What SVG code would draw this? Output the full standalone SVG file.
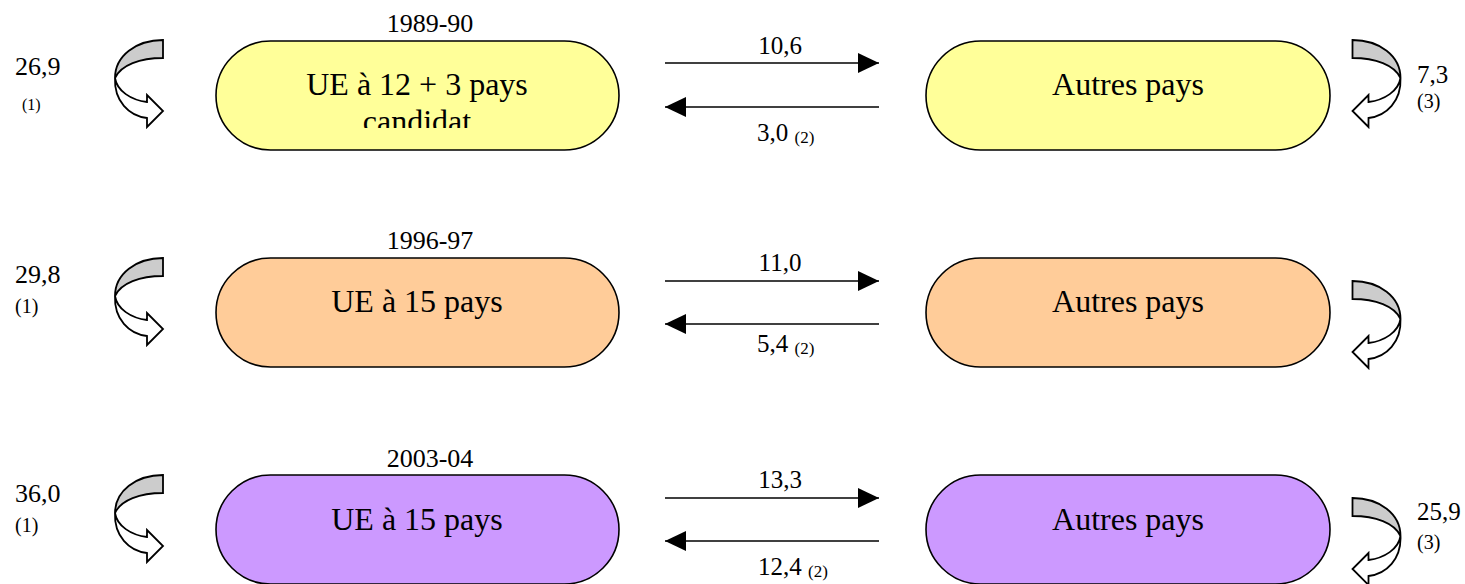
<svg xmlns="http://www.w3.org/2000/svg" xmlns:xlink="http://www.w3.org/1999/xlink" width="1465" height="584" viewBox="0 0 1465 584" font-family="'Liberation Serif', 'Times New Roman', serif">
<style>
text{font-family:'Liberation Serif','Times New Roman',serif;fill:#000}
.main{font-size:32px;text-anchor:middle}
.year{font-size:26px;text-anchor:middle}
.num{font-size:25px}
.mid{text-anchor:middle}
.lnum{font-size:26px}
.sm{font-size:16px}
.sm3{font-size:17px}
.sm2{font-size:20px}
.node{stroke:#000;stroke-width:1.6}
.y{fill:#ffff99}.o{fill:#ffcc99}.p{fill:#cc99ff}
.flow{stroke:#000;stroke-width:1.6;fill:none}
.curl path{stroke:#000;stroke-width:1.8;stroke-linejoin:miter}
</style>
<defs>
<marker id="ah" markerWidth="21" markerHeight="20" refX="21" refY="10" orient="auto" markerUnits="userSpaceOnUse">
<path d="M0,0 L21,10 L0,20 Z" fill="#000"/>
</marker>
<clipPath id="cut"><rect x="0" y="0" width="1465" height="128"/></clipPath>
<g id="curl" class="curl">
<path d="M163,40 C136,40 115,56 115,78 C121,65 140,58 163,58 Z" fill="#cccccc"/>
<path d="M115,78 C114,101 129,116 147,118 L147,127 L163,111 L147,95 L147,102 C131,100 117,91 115,78 Z" fill="#ffffff"/>
</g>
</defs>

<g id="row1-left-node">
<rect class="node y" x="216" y="41" width="403" height="109" rx="54.5"/>
<text class="main" x="417" y="95">UE à 12 + 3 pays</text>
<text class="main" x="417" y="132" clip-path="url(#cut)">candidat</text>
</g>
<g id="row1-right-node">
<rect class="node y" x="926" y="41" width="404" height="109" rx="54.5"/>
<text class="main" x="1128" y="95">Autres pays</text>
</g>
<g id="row2-left-node">
<rect class="node o" x="216" y="258" width="403" height="109" rx="54.5"/>
<text class="main" x="417" y="312">UE à 15 pays</text>
</g>
<g id="row2-right-node">
<rect class="node o" x="926" y="258" width="404" height="109" rx="54.5"/>
<text class="main" x="1128" y="312">Autres pays</text>
</g>
<g id="row3-left-node">
<rect class="node p" x="216" y="475" width="403" height="109" rx="54.5"/>
<text class="main" x="417" y="530">UE à 15 pays</text>
</g>
<g id="row3-right-node">
<rect class="node p" x="926" y="475" width="404" height="109" rx="54.5"/>
<text class="main" x="1128" y="530">Autres pays</text>
</g>

<g id="labels">
<text class="year" x="430" y="32">1989-90</text>
<text class="year" x="430" y="249">1996-97</text>
<text class="year" x="430" y="467">2003-04</text>
<text class="lnum" x="15" y="75">26,9</text>
<text class="sm" x="22" y="110">(1)</text>
<text class="lnum" x="15" y="283">29,8</text>
<text class="sm2" x="15" y="313">(1)</text>
<text class="lnum" x="15" y="502">36,0</text>
<text class="sm2" x="15" y="532">(1)</text>
<text class="num" x="1417" y="83">7,3</text>
<text class="sm2" x="1417" y="108">(3)</text>
<text class="num" x="1417" y="520">25,9</text>
<text class="sm2" x="1417" y="549">(3)</text>
</g>

<g id="connectors">
<line class="flow" x1="665" y1="63" x2="879" y2="63" marker-end="url(#ah)"/>
<line class="flow" x1="879" y1="107" x2="665" y2="107" marker-end="url(#ah)"/>
<line class="flow" x1="665" y1="281" x2="879" y2="281" marker-end="url(#ah)"/>
<line class="flow" x1="879" y1="324" x2="665" y2="324" marker-end="url(#ah)"/>
<line class="flow" x1="665" y1="498" x2="879" y2="498" marker-end="url(#ah)"/>
<line class="flow" x1="879" y1="541" x2="665" y2="541" marker-end="url(#ah)"/>
<text class="num mid" x="780" y="54">10,6</text>
<text class="num" x="757" y="141">3,0 <tspan class="sm3" dy="2">(2)</tspan></text>
<text class="num mid" x="780" y="271">11,0</text>
<text class="num" x="757" y="352">5,4 <tspan class="sm3" dy="2">(2)</tspan></text>
<text class="num mid" x="780" y="488">13,3</text>
<text class="num" x="758" y="575">12,4 <tspan class="sm3" dy="2">(2)</tspan></text>
<use xlink:href="#curl"/>
<use xlink:href="#curl" transform="translate(0,218)"/>
<use xlink:href="#curl" transform="translate(0,435)"/>
<use xlink:href="#curl" transform="translate(1515.5,0) scale(-1,1)"/>
<use xlink:href="#curl" transform="translate(1515.5,241) scale(-1,1)"/>
<use xlink:href="#curl" transform="translate(1515.5,458) scale(-1,1)"/>
</g>
</svg>
